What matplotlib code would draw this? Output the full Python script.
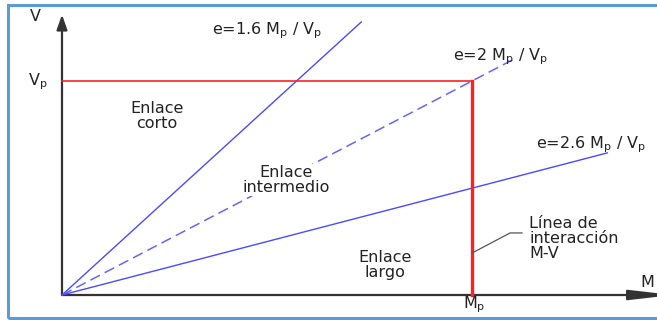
import matplotlib
matplotlib.use('Agg')
import matplotlib.pyplot as plt
from matplotlib.patches import Rectangle, FancyArrowPatch

plt.rcParams['font.family'] = ['DejaVu Sans']
plt.rcParams['mathtext.default'] = 'regular'

# rectas e = k Mp/Vp, extremos en unidades de Mp (eje M) y Vp (eje V)
e_labels = [r"e=1.6 M$_p$ / V$_p$", r"e=2 M$_p$ / V$_p$", r"e=2.6 M$_p$ / V$_p$"]
line_end_M = [0.73, 1.10, 1.33]
line_end_V = [1.276, 1.10, 0.664]
line_styles = ['-', '--', '-']
label_pos = [(0.50, 1.233), (1.07, 1.112), (1.29, 0.701)]

# zona de interaccion M-V
Mp = 1.0
Vp = 1.0

# regiones
region_labels = ["Enlace\ncorto", "Enlace\nintermedio", "Enlace\nlargo"]
region_pos = [(0.232, 0.836), (0.546, 0.537), (0.788, 0.140)]

txt_color = '#222222'
blue = '#4a4aff'
red = '#ff2020'

fig = plt.figure(figsize=(6.57, 3.20), dpi=100)
ax = fig.add_axes([0, 0, 1, 1])
ax.set_xlim(-62 / 410, 595 / 410)
ax.set_ylim(-25 / 214, 295 / 214)
ax.axis('off')

# marco azul
fig.patches.append(Rectangle((8 / 657, 2 / 320), 1.0, 313 / 320, transform=fig.transFigure,
                             fill=False, edgecolor='#5b9bd5', linewidth=2.2))

# ejes con flechas
ax.add_patch(FancyArrowPatch((0, 0), (0, 1.31), arrowstyle='-|>,head_length=9,head_width=3.2',
                             mutation_scale=1, color='#333333', linewidth=1.6, shrinkA=0, shrinkB=0))
ax.add_patch(FancyArrowPatch((0, 0), (1.49, 0), arrowstyle='-|>,head_length=26,head_width=3',
                             mutation_scale=1, color='#333333', linewidth=1.6, shrinkA=0, shrinkB=0))

# rectas de excentricidad
for mx, vy, ls in zip(line_end_M, line_end_V, line_styles):
    if ls == '--':
        ax.plot([0, mx], [0, vy], color='#6464ff', linewidth=1.1, linestyle=(0, (7, 3.5)))
    else:
        ax.plot([0, mx], [0, vy], color=blue, linewidth=1.0)

for lab, (x, y) in zip(e_labels, label_pos):
    ax.text(x, y, lab, fontsize=11.5, color=txt_color, ha='center', va='center')

# linea de interaccion
ax.plot([0, Mp], [Vp, Vp], color=red, linewidth=1.2)
ax.plot([Mp, Mp], [0, Vp], color=red, linewidth=2.4)

ax.text(-0.065, 1.3, "V", fontsize=11.5, color=txt_color, ha='center', va='center')
ax.text(-0.06, 0.995, r"V$_p$", fontsize=11.5, color=txt_color, ha='center', va='center')
ax.text(1.005, -0.045, r"M$_p$", fontsize=11.5, color=txt_color, ha='center', va='center')
ax.text(1.445, 0.06, "M", fontsize=11.5, color=txt_color, ha='right', va='center')

for lab, (x, y) in zip(region_labels, region_pos):
    ax.text(x, y, lab, fontsize=11.5, color=txt_color, ha='center', va='center', linespacing=1.0,
            bbox=dict(facecolor='white', edgecolor='none', pad=0.5), zorder=5)

ax.plot([Mp, 1.093, 1.122], [0.196, 0.290, 0.290], color='#555555', linewidth=0.9)
ax.text(1.14, 0.265, "Línea de\ninteracción\nM-V", fontsize=11.5, color=txt_color,
        ha='left', va='center', linespacing=1.0)

fig.savefig('out.png', dpi=100)
